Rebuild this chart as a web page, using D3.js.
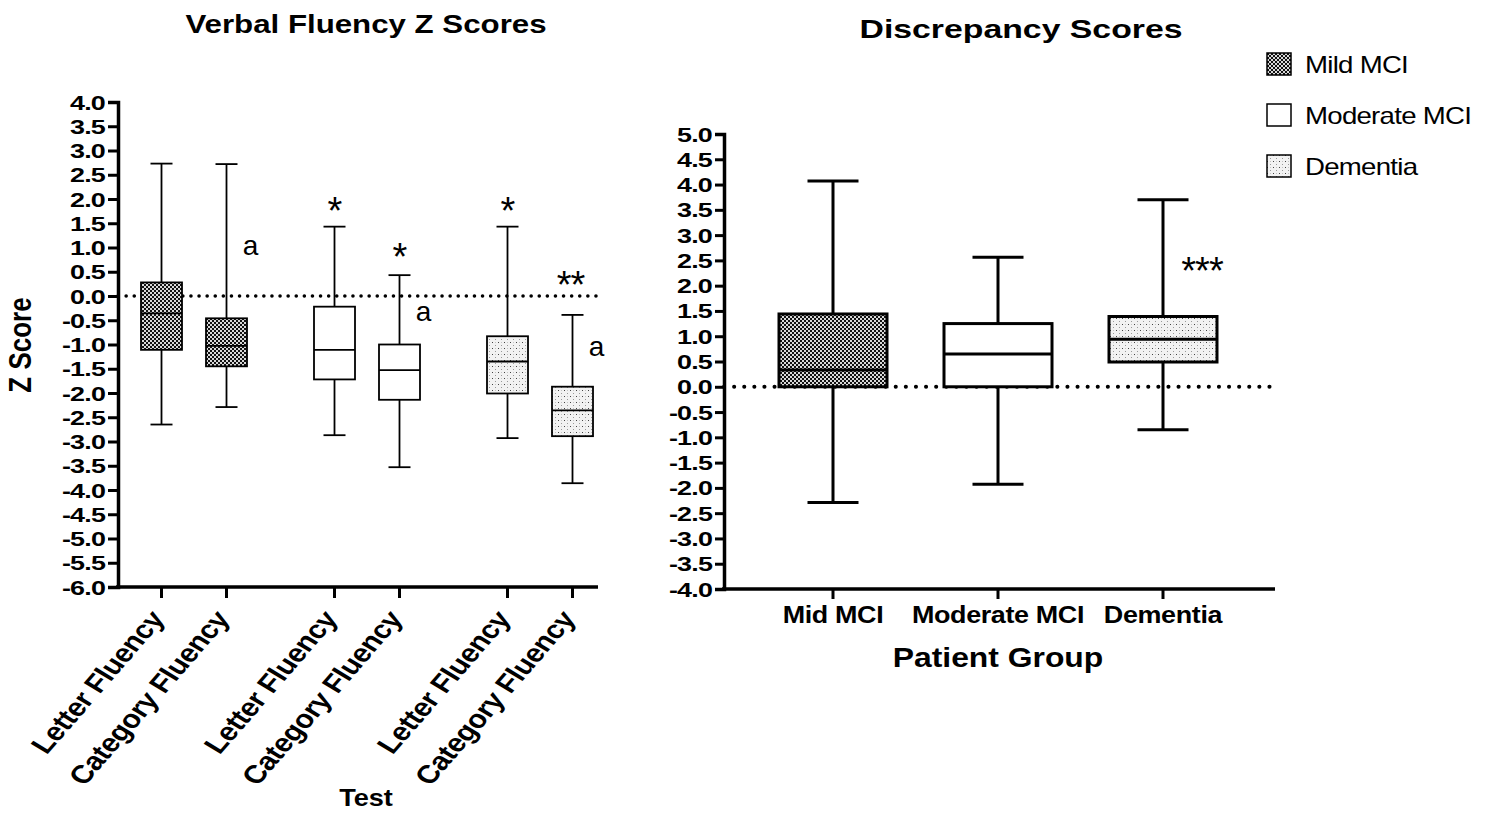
<!DOCTYPE html>
<html>
<head>
<meta charset="utf-8">
<script src="https://cdn.jsdelivr.net/npm/d3@7"></script>
<style>
  body { margin: 0; background: #fff; }
  svg { display: block; font-family: "Liberation Sans", Arial, sans-serif; }
</style>
</head>
<body>
<svg id="chart" width="1491" height="814"></svg>
<script>
// ---- data: left panel (Verbal Fluency Z Scores) ----
const groups = ['Mild MCI', 'Moderate MCI', 'Dementia'];
const tests = ['Letter Fluency', 'Category Fluency'];
// one entry per group x test: [whiskerLow, q1, median, q3, whiskerHigh]
const fluencyMild = [[-2.65, -1.11, -0.36, 0.28, 2.73], [-2.29, -1.45, -1.03, -0.46, 2.72]];
const fluencyModerate = [[-2.87, -1.72, -1.11, -0.22, 1.43], [-3.53, -2.14, -1.53, -1.0, 0.43]];
const fluencyDementia = [[-2.93, -2.01, -1.35, -0.83, 1.43], [-3.86, -2.89, -2.36, -1.87, -0.39]];
const leftTicks = d3.range(-6, 4.01, 0.5);
// annotations: group, test, value, label, side
const leftMarks = [
  { g: 'Mild MCI', t: 'Category Fluency', v: 1.01, text: 'a', side: 'right' },
  { g: 'Moderate MCI', t: 'Letter Fluency', v: 1.94, text: '*', side: 'top' },
  { g: 'Moderate MCI', t: 'Category Fluency', v: 0.99, text: '*', side: 'top' },
  { g: 'Moderate MCI', t: 'Category Fluency', v: -0.35, text: 'a', side: 'right' },
  { g: 'Dementia', t: 'Letter Fluency', v: 1.94, text: '*', side: 'top' },
  { g: 'Dementia', t: 'Category Fluency', v: 0.41, text: '**', side: 'top' },
  { g: 'Dementia', t: 'Category Fluency', v: -1.07, text: 'a', side: 'right' }
];

// ---- data: right panel (Discrepancy Scores) ----
const patientGroups = ['Mid MCI', 'Moderate MCI', 'Dementia'];
const discrepancy = [
  [-2.29, 0.0, 0.33, 1.44, 4.07],
  [-1.93, 0.0, 0.65, 1.25, 2.56],
  [-0.85, 0.49, 0.94, 1.39, 3.70]
];
const rightTicks = d3.range(-4, 5.01, 0.5);
const rightMarks = [{ i: 2, v: 2.47, text: '***' }];

const fills = ['url(#mild)', '#fff', 'url(#dem)'];
const fmt = d => d.toFixed(1); // plain hyphen minus, like the source

const svg = d3.select('#chart');

// fill patterns
const defs = svg.append('defs');
const pm = defs.append('pattern').attr('id', 'mild').attr('patternUnits', 'userSpaceOnUse')
  .attr('width', 4).attr('height', 4);
pm.append('rect').attr('width', 4).attr('height', 4).attr('fill', '#d8d8d8');
pm.append('rect').attr('width', 2).attr('height', 2).attr('fill', '#111');
pm.append('rect').attr('x', 2).attr('y', 2).attr('width', 2).attr('height', 2).attr('fill', '#111');
const pd = defs.append('pattern').attr('id', 'dem').attr('patternUnits', 'userSpaceOnUse')
  .attr('width', 6).attr('height', 6);
pd.append('rect').attr('width', 6).attr('height', 6).attr('fill', '#f2f2f2');
pd.append('rect').attr('x', 0).attr('y', 0).attr('width', 1).attr('height', 1).attr('fill', '#444');
pd.append('rect').attr('x', 3).attr('y', 3).attr('width', 1).attr('height', 1).attr('fill', '#999');
pd.append('rect').attr('x', 3).attr('y', 0).attr('width', 1).attr('height', 1).attr('fill', '#c4c4c4');

// horizontally stretched text helper (the source figure is wider than tall)
function stretchText(sel, sx) {
  sel.each(function () {
    const t = d3.select(this);
    const x = +t.attr('x') || 0;
    t.attr('x', x / sx).attr('transform', `scale(${sx},1)`);
  });
}
function label(parent, x, y, text, opts) {
  const o = Object.assign({ size: 24, weight: 'bold', sx: 1.2, anchor: 'middle', rotate: 0 }, opts);
  parent.append('text')
    .attr('transform', `translate(${x},${y}) scale(${o.sx},1) rotate(${o.rotate})`)
    .attr('text-anchor', o.anchor)
    .attr('font-size', o.size)
    .attr('font-weight', o.weight)
    .attr('letter-spacing', o.ls || 0)
    .attr('fill', '#000')
    .text(text);
}

// ================= LEFT PANEL =================
const left = svg.append('g');
const yL = d3.scaleLinear().domain([-6, 4]).range([587, 102]);
const xG = d3.scalePoint().domain(groups).range([194, 540]);
const xT = d3.scalePoint().domain(tests).range([-32.5, 32.5]);
const xL = (g, t) => xG(g) + xT(t);

const leftRows = [];
[fluencyMild, fluencyModerate, fluencyDementia].forEach((arr, gi) => {
  arr.forEach((s, ti) => leftRows.push({ g: groups[gi], t: tests[ti], gi, s }));
});

// zero reference line
left.append('line')
  .attr('x1', 118).attr('x2', 598).attr('y1', yL(0)).attr('y2', yL(0))
  .attr('stroke', '#000').attr('stroke-width', 3.5)
  .attr('stroke-dasharray', '0.1,8').attr('stroke-linecap', 'round');

const bw = 41, cw = 22;
const lb = left.selectAll('.lbox').data(leftRows).enter().append('g').attr('class', 'lbox');
lb.append('line')
  .attr('x1', d => xL(d.g, d.t)).attr('x2', d => xL(d.g, d.t))
  .attr('y1', d => yL(d.s[0])).attr('y2', d => yL(d.s[4]))
  .attr('stroke', '#000').attr('stroke-width', 1.8);
lb.selectAll('.cap').data(d => [0, 4].map(k => ({ r: d, v: d.s[k] }))).enter().append('line')
  .attr('x1', d => xL(d.r.g, d.r.t) - cw / 2).attr('x2', d => xL(d.r.g, d.r.t) + cw / 2)
  .attr('y1', d => yL(d.v)).attr('y2', d => yL(d.v))
  .attr('stroke', '#000').attr('stroke-width', 1.8);
lb.append('rect')
  .attr('x', d => xL(d.g, d.t) - bw / 2).attr('width', bw)
  .attr('y', d => yL(d.s[3])).attr('height', d => yL(d.s[1]) - yL(d.s[3]))
  .attr('fill', d => fills[d.gi]).attr('stroke', '#000').attr('stroke-width', 1.8);
lb.append('line')
  .attr('x1', d => xL(d.g, d.t) - bw / 2).attr('x2', d => xL(d.g, d.t) + bw / 2)
  .attr('y1', d => yL(d.s[2])).attr('y2', d => yL(d.s[2]))
  .attr('stroke', '#000').attr('stroke-width', 1.8);

// axes
const yAxisL = left.append('g').attr('transform', 'translate(118,0)')
  .call(d3.axisLeft(yL).tickValues(leftTicks).tickFormat(fmt).tickSize(10).tickPadding(3));
yAxisL.select('.domain').attr('stroke-width', 3.5);
yAxisL.selectAll('.tick line').attr('stroke-width', 3);
yAxisL.selectAll('.tick text')
  .attr('font-size', 19.5).attr('font-weight', 'bold').attr('fill', '#000')
  .attr('letter-spacing', -0.6).attr('font-family', 'Liberation Sans, Arial')
  .attr('dy', '0.36em')
  .call(stretchText, 1.38);

left.append('line').attr('x1', 116).attr('x2', 598).attr('y1', 587).attr('y2', 587)
  .attr('stroke', '#000').attr('stroke-width', 3.5);
left.selectAll('.xtick').data(leftRows).enter().append('line')
  .attr('x1', d => xL(d.g, d.t)).attr('x2', d => xL(d.g, d.t))
  .attr('y1', 587).attr('y2', 598).attr('stroke', '#000').attr('stroke-width', 3);
leftRows.forEach(d => {
  label(left, xL(d.g, d.t) + 4, 619, d.t, { size: 25.5, sx: 1.2, anchor: 'end', rotate: -54, ls: -0.4 });
});

// annotations
leftMarks.forEach(m => {
  const x = xL(m.g, m.t);
  if (m.side === 'right') {
    left.append('text').attr('x', x + 24).attr('y', yL(m.v) + 8)
      .attr('text-anchor', 'middle').attr('font-size', 28).text(m.text);
  } else {
    left.append('text').attr('x', x + (m.text.length > 1 ? -2 : 0)).attr('y', yL(m.v) + 22)
      .attr('text-anchor', 'middle').attr('font-size', 38).attr('letter-spacing', -1).text(m.text);
  }
});

label(left, 366, 33, 'Verbal Fluency Z Scores', { size: 25, sx: 1.25 });
label(left, 31, 345, 'Z Score', { size: 26, sx: 1.2, rotate: -90 });
label(left, 366, 806, 'Test', { size: 23, sx: 1.18 });

// ================= RIGHT PANEL =================
const right = svg.append('g');
const yR = d3.scaleLinear().domain([-4, 5]).range([589, 134]);
const xR = d3.scalePoint().domain(patientGroups).range([833, 1163]);
const rbw = 108, rcw = 51;
const rightRows = discrepancy.map((s, i) => ({ g: patientGroups[i], i, s }));

right.append('line')
  .attr('x1', 724).attr('x2', 1275).attr('y1', yR(0)).attr('y2', yR(0))
  .attr('stroke', '#000').attr('stroke-width', 4)
  .attr('stroke-dasharray', '0.1,10').attr('stroke-linecap', 'round');

const rb = right.selectAll('.rbox').data(rightRows).enter().append('g').attr('class', 'rbox');
rb.append('line')
  .attr('x1', d => xR(d.g)).attr('x2', d => xR(d.g))
  .attr('y1', d => yR(d.s[0])).attr('y2', d => yR(d.s[4]))
  .attr('stroke', '#000').attr('stroke-width', 3);
rb.selectAll('.cap').data(d => [0, 4].map(k => ({ r: d, v: d.s[k] }))).enter().append('line')
  .attr('x1', d => xR(d.r.g) - rcw / 2).attr('x2', d => xR(d.r.g) + rcw / 2)
  .attr('y1', d => yR(d.v)).attr('y2', d => yR(d.v))
  .attr('stroke', '#000').attr('stroke-width', 3);
rb.append('rect')
  .attr('x', d => xR(d.g) - rbw / 2).attr('width', rbw)
  .attr('y', d => yR(d.s[3])).attr('height', d => yR(d.s[1]) - yR(d.s[3]))
  .attr('fill', d => fills[d.i]).attr('stroke', '#000').attr('stroke-width', 3);
rb.append('line')
  .attr('x1', d => xR(d.g) - rbw / 2).attr('x2', d => xR(d.g) + rbw / 2)
  .attr('y1', d => yR(d.s[2])).attr('y2', d => yR(d.s[2]))
  .attr('stroke', '#000').attr('stroke-width', 3);

const yAxisR = right.append('g').attr('transform', 'translate(724,0)')
  .call(d3.axisLeft(yR).tickValues(rightTicks).tickFormat(fmt).tickSize(9).tickPadding(3));
yAxisR.select('.domain').attr('stroke-width', 3.5);
yAxisR.selectAll('.tick line').attr('stroke-width', 3);
yAxisR.selectAll('.tick text')
  .attr('font-size', 19.5).attr('font-weight', 'bold').attr('fill', '#000')
  .attr('letter-spacing', -0.6).attr('font-family', 'Liberation Sans, Arial')
  .attr('dy', '0.36em')
  .call(stretchText, 1.38);

right.append('line').attr('x1', 722).attr('x2', 1275).attr('y1', 589).attr('y2', 589)
  .attr('stroke', '#000').attr('stroke-width', 3.5);
right.selectAll('.xtick').data(rightRows).enter().append('line')
  .attr('x1', d => xR(d.g)).attr('x2', d => xR(d.g))
  .attr('y1', 589).attr('y2', 599).attr('stroke', '#000').attr('stroke-width', 3);
rightRows.forEach(d => label(right, xR(d.g), 623, d.g, { size: 23, sx: 1.17, ls: -0.3 }));

rightMarks.forEach(m => {
  right.append('text').attr('x', xR(patientGroups[m.i]) + 39).attr('y', yR(m.v) + 22)
    .attr('text-anchor', 'middle').attr('font-size', 38).attr('letter-spacing', -1).text(m.text);
});

label(right, 1021, 38, 'Discrepancy Scores', { size: 26, sx: 1.3 });
label(right, 998, 667, 'Patient Group', { size: 27, sx: 1.18 });

// legend
const legendNames = ['Mild MCI', 'Moderate MCI', 'Dementia'];
const lg = svg.append('g').attr('transform', 'translate(1267,53)');
legendNames.forEach((n, i) => {
  lg.append('rect').attr('x', 0).attr('y', i * 51).attr('width', 24).attr('height', 22)
    .attr('fill', fills[i]).attr('stroke', '#000').attr('stroke-width', 1.5);
  label(lg, 38, i * 51 + 20, n, { size: 23, weight: 'normal', sx: 1.2, anchor: 'start', ls: -0.6 });
});
</script>
</body>
</html>
